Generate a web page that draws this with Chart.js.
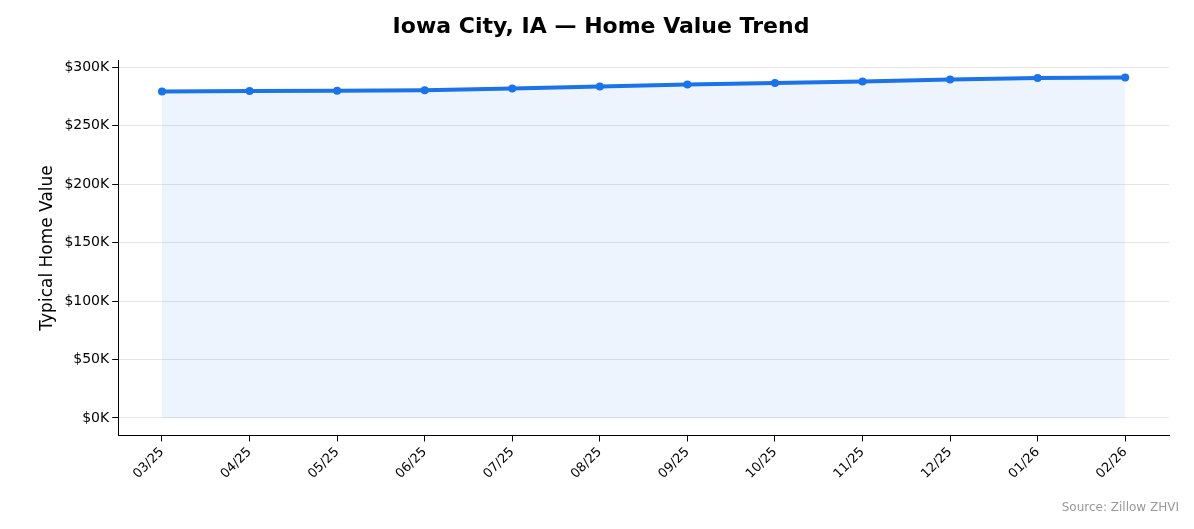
<!DOCTYPE html>
<html>
<head>
<meta charset="utf-8">
<script src="https://cdn.jsdelivr.net/npm/chart.js@4"></script>
<style>
  body { margin: 0; background: #fff; }
  #wrap { position: relative; width: 1194px; height: 529px; }
  #src { position: absolute; right: 15px; bottom: 15px; font: 12px "DejaVu Sans"; color: #999; }
</style>
</head>
<body>
<div id="wrap">
  <canvas id="chart" width="1194" height="529"></canvas>
  <div id="src">Source: Zillow ZHVI</div>
</div>
<script>
const months = ["03/25","04/25","05/25","06/25","07/25","08/25","09/25","10/25","11/25","12/25","01/26","02/26"];
const homeValues = [279400, 279800, 280000, 280400, 282000, 283700, 285400, 286700, 288000, 289700, 291000, 291400];
const yTicks = [0, 50000, 100000, 150000, 200000, 250000, 300000];

const ctx = document.getElementById("chart").getContext("2d");
new Chart(ctx, {
  type: "line",
  data: {
    labels: months,
    datasets: [{
      data: homeValues,
      borderColor: "#1a73e8",
      backgroundColor: "rgba(26,115,232,0.08)",
      borderWidth: 4,
      pointRadius: 4,
      pointBackgroundColor: "#1a73e8",
      pointBorderWidth: 0,
      fill: "origin",
      tension: 0
    }]
  },
  options: {
    responsive: false,
    animation: false,
    layout: { padding: { left: 33, right: 25, top: 8, bottom: 44 } },
    plugins: {
      legend: { display: false },
      title: {
        display: true,
        text: "Iowa City, IA — Home Value Trend",
        font: { family: "DejaVu Sans", size: 22, weight: "bold" },
        color: "#000",
        padding: { top: 6, bottom: 20 }
      }
    },
    scales: {
      x: {
        offset: true,
        grid: { drawOnChartArea: false, tickLength: 6, tickColor: "#000" },
        border: { color: "#000", width: 1 },
        ticks: { color: "#000", font: { family: "DejaVu Sans", size: 13 }, maxRotation: 45, minRotation: 45, autoSkip: false }
      },
      y: {
        min: -15000,
        max: 306000,
        afterBuildTicks: axis => { axis.ticks = yTicks.map(v => ({ value: v })); },
        grid: { color: "rgba(0,0,0,0.1)", tickLength: 6, tickColor: "#000" },
        border: { color: "#000", width: 1 },
        ticks: {
          color: "#000",
          font: { family: "DejaVu Sans", size: 14 },
          callback: v => "$" + (v / 1000) + "K"
        },
        title: {
          display: true,
          text: "Typical Home Value",
          color: "#000",
          font: { family: "DejaVu Sans", size: 17 }
        }
      }
    }
  }
});
</script>
</body>
</html>
